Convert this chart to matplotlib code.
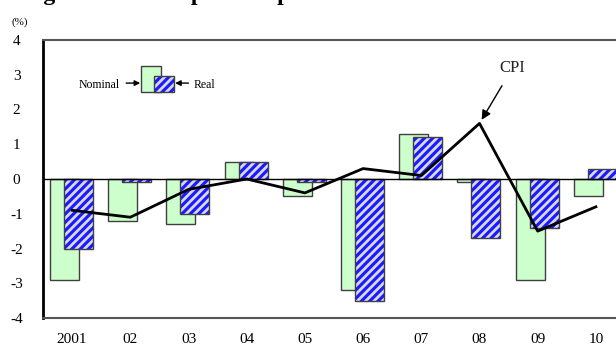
import numpy as np
import matplotlib.pyplot as plt
from matplotlib.patches import Rectangle

plt.rcParams['font.family'] = ['Liberation Serif', 'DejaVu Serif']
plt.rcParams['hatch.linewidth'] = 2.0
plt.rcParams['axes.unicode_minus'] = False

years = ['2001', '02', '03', '04', '05', '06', '07', '08', '09', '10']
nominal = [-2.9, -1.2, -1.3, 0.5, -0.5, -3.2, 1.3, -0.1, -2.9, -0.5]
real = [-2.0, -0.1, -1.0, 0.5, -0.1, -3.5, 1.2, -1.7, -1.4, 0.3]
cpi = [-0.9, -1.1, -0.3, 0.0, -0.4, 0.3, 0.1, 1.6, -1.5, -0.8]

green = '#ccffcc'
blue = '#1a1aff'
edge = '#404040'

fig = plt.figure(figsize=(6.16, 3.47), dpi=100)
ax = fig.add_axes([43 / 616, 29 / 347, 582 / 616, 278 / 347])

x = np.arange(len(years))
w = 0.5
ax.bar(x - 0.13, nominal, w, color=green, edgecolor=edge, linewidth=1.0, zorder=2)
# striped real bars: blue fill with light hatch, then outline on top
ax.bar(x + 0.11, real, w, color=blue, edgecolor='#d8d8f0', hatch='////',
       linewidth=0, zorder=3)
ax.bar(x + 0.11, real, w, fill=False, edgecolor=edge, linewidth=1.0, zorder=4)

ax.axhline(0, color='black', linewidth=1.0, zorder=5)
ax.plot(x, cpi, color='black', linewidth=2.0, zorder=6)

ax.set_xlim(-0.5, 9.5)
ax.set_ylim(-4, 4)
ax.set_yticks(range(-4, 5))
ax.set_xticks(x)
ax.set_xticklabels(years)
ax.tick_params(axis='both', length=0, labelsize=11)
ax.tick_params(axis='y', pad=19)
ax.tick_params(axis='x', pad=11)
for lab in ax.get_yticklabels():
    lab.set_horizontalalignment('center')

ax.spines['left'].set_color('black')
ax.spines['left'].set_linewidth(2.0)
ax.spines['bottom'].set_color('#555555')
ax.spines['bottom'].set_linewidth(1.5)
ax.spines['top'].set_color('#555555')
ax.spines['top'].set_linewidth(1.5)
ax.spines['right'].set_visible(False)

ax.annotate('CPI', xy=(7, 1.6), xytext=(7.57, 3.2), fontsize=12,
            ha='center', va='center', color='#222222',
            arrowprops=dict(arrowstyle='-|>', color='black', lw=1.0,
                            mutation_scale=14, shrinkA=6, shrinkB=3))

# key for the two bar types
ax.add_patch(Rectangle((0.168, 0.813), 0.034, 0.093, transform=ax.transAxes,
                       facecolor=green, edgecolor=edge, linewidth=1.0, zorder=7))
ax.add_patch(Rectangle((0.191, 0.813), 0.034, 0.058, transform=ax.transAxes,
                       facecolor=blue, edgecolor='#d8d8f0', hatch='////',
                       linewidth=0, zorder=8))
ax.add_patch(Rectangle((0.191, 0.813), 0.034, 0.058, transform=ax.transAxes,
                       fill=False, edgecolor=edge, linewidth=1.0, zorder=9))
ax.text(0.131, 0.838, 'Nominal', transform=ax.transAxes, fontsize=8.5,
        ha='right', va='center')
ax.text(0.258, 0.838, 'Real', transform=ax.transAxes, fontsize=8.5,
        ha='left', va='center')
ax.annotate('', xy=(0.167, 0.845), xytext=(0.143, 0.845),
            xycoords='axes fraction',
            arrowprops=dict(arrowstyle='-|>', color='black', lw=1.0,
                            mutation_scale=8, shrinkA=0, shrinkB=0))
ax.annotate('', xy=(0.227, 0.845), xytext=(0.250, 0.845),
            xycoords='axes fraction',
            arrowprops=dict(arrowstyle='-|>', color='black', lw=1.0,
                            mutation_scale=8, shrinkA=0, shrinkB=0))

fig.text(20 / 616, 1 - 22 / 347, '(%)', fontsize=8, ha='center', va='center')
fig.text(-0.02, 1.0, 'Changes in Consumption Expenditures and Consumer Prices',
         fontsize=17, fontweight='bold', ha='left', va='baseline')

fig.savefig('out.png', dpi=100)
